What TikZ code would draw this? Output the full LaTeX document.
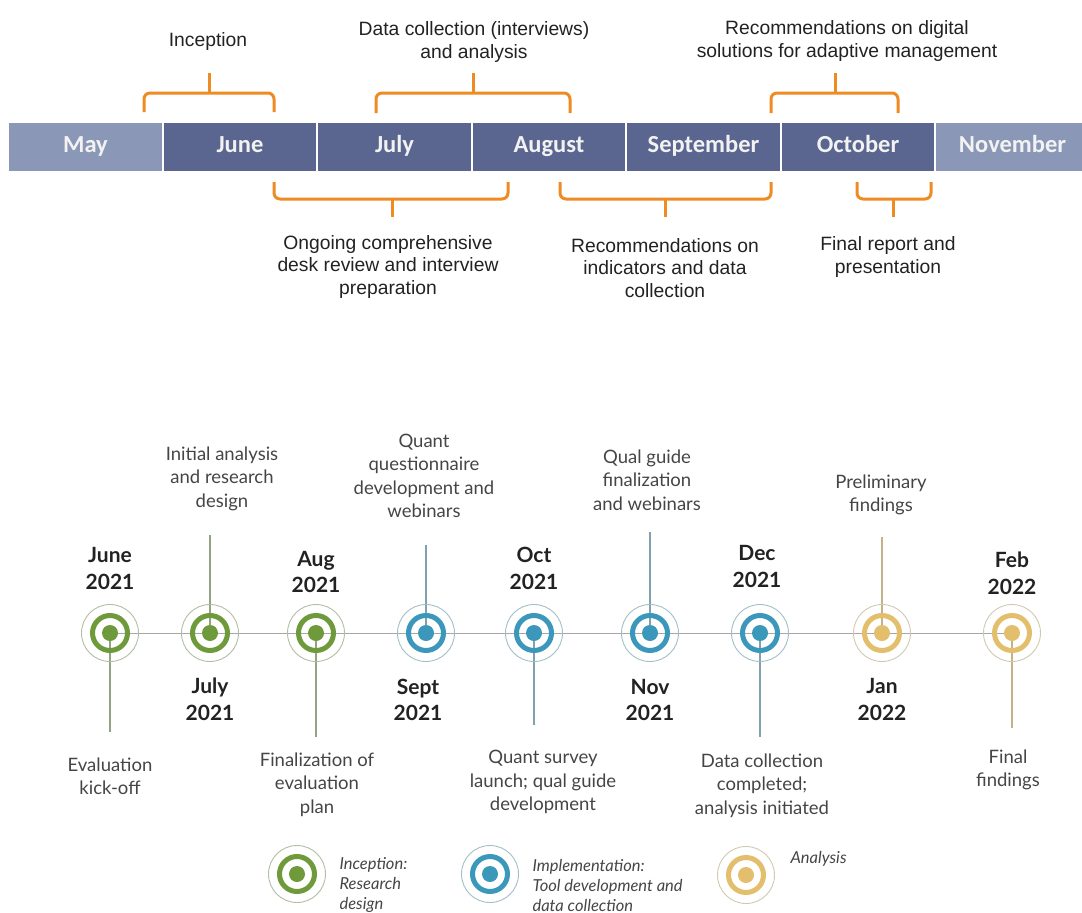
\documentclass[tikz,border=0pt]{standalone}
\usepackage{fontspec}
\setmainfont{Liberation Sans}
\newfontfamily\gillfont{Lato}
\newfontfamily\calibfont{Carlito}
\usetikzlibrary{positioning}

\definecolor{barDark}{HTML}{5A6690}
\definecolor{barLight}{HTML}{8A97B6}
\definecolor{braceOrange}{HTML}{EE8B22}
\definecolor{incGreen}{HTML}{6E9A3B}
\definecolor{impBlue}{HTML}{3B98BA}
\definecolor{anaTan}{HTML}{E3BE6C}
\definecolor{lineGray}{HTML}{A4A8A6}
\definecolor{textDark}{HTML}{222222}
\definecolor{textGray}{HTML}{454545}

\tikzset{
    month/.style={fill=barDark, minimum width=152.5pt, minimum height=48pt, inner sep=0pt, outer sep=0pt,
        text height=14pt, text depth=3pt,
        text=white!95!black, font=\calibfont\bfseries\fontsize{24.5}{27}\selectfont},
    lightmonth/.style={month, fill=barLight},
    brace/.style={draw=braceOrange, line width=3pt, rounded corners=6pt},
    toplabel/.style={align=center, text=textDark, font=\fontsize{19.3}{22.8}\selectfont},
    datelabel/.style={align=center, text=textDark, font=\gillfont\bfseries\fontsize{21}{26.5}\selectfont},
    desclabel/.style={align=center, text=textGray, font=\gillfont\fontsize{18.5}{23.5}\selectfont},
    legendlabel/.style={anchor=west, align=left, text=textGray, font=\gillfont\itshape\fontsize{16.5}{20}\selectfont},
    stem/.style={line width=1.1pt}
}

% ring marker: name, position, colour
\newcommand{\milestone}[3]{%
    \draw[#3!40!lineGray!70, line width=0.9pt] (#2) circle (28.5pt);
    \draw[#3, line width=5pt] (#2) circle (17.5pt);
    \node[circle, fill=#3, minimum size=16pt, inner sep=0pt] (#1) at (#2) {};
}

\begin{document}
\begin{tikzpicture}[x=1pt, y=-1pt]
    \useasboundingbox (0,0) rectangle (1082,913);

    % month bar
    \node[lightmonth] (may) at (85.5,147) {May};
    \node[month, right=2pt of may] (june) {June};
    \node[month, right=2pt of june] (july) {July};
    \node[month, right=2pt of july] (august) {August};
    \node[month, right=2pt of august] (september) {September};
    \node[month, right=2pt of september] (october) {October};
    \node[lightmonth, right=2pt of october] (november) {November};

    % braces above the bar
    \node[toplabel] (inception) at (208,42) {Inception};
    \draw[brace] (144,112) -- (144,93) -- (274,93) -- (274,112);
    \draw[brace, rounded corners=0pt] (209,93) -- (209,73);

    \node[toplabel] (datacoll) at (474,42) {Data collection (interviews)\\and analysis};
    \draw[brace] (376,113) -- (376,93) -- (570,93) -- (570,113);
    \draw[brace, rounded corners=0pt] (473,93) -- (473,73);

    \node[toplabel] (recdigital) at (847,41) {Recommendations on digital\\solutions for adaptive management};
    \draw[brace] (771,113) -- (771,93) -- (898,93) -- (898,113);
    \draw[brace, rounded corners=0pt] (835,93) -- (835,73);

    % braces below the bar
    \draw[brace] (274,182) -- (274,199) -- (508,199) -- (508,182);
    \draw[brace, rounded corners=0pt] (392,199) -- (392,217);
    \node[toplabel] (deskreview) at (388,267) {Ongoing comprehensive\\desk review and interview\\preparation};

    \draw[brace] (560,182) -- (560,199) -- (771,199) -- (771,182);
    \draw[brace, rounded corners=0pt] (665,199) -- (665,217);
    \node[toplabel] (recindic) at (665,268) {Recommendations on\\indicators and data\\collection};

    \draw[brace] (857,182) -- (857,199) -- (931,199) -- (931,182);
    \draw[brace, rounded corners=0pt] (893,199) -- (893,217);
    \node[toplabel] (finalreport) at (888,257) {Final report and\\presentation};

    % timeline
    \draw[lineGray, line width=1pt] (110,633) -- (1012,633);

    \draw[stem, incGreen!35!lineGray] (110,633) -- (110,732);
    \draw[stem, incGreen!35!lineGray] (210,633) -- (210,535);
    \draw[stem, incGreen!35!lineGray] (316,633) -- (316,737);
    \draw[stem, impBlue!35!lineGray] (426,633) -- (426,545);
    \draw[stem, impBlue!35!lineGray] (534,633) -- (534,725);
    \draw[stem, impBlue!35!lineGray] (650,633) -- (650,532);
    \draw[stem, impBlue!35!lineGray] (760,633) -- (760,737);
    \draw[stem, anaTan!50!lineGray] (882,633) -- (882,537);
    \draw[stem, anaTan!50!lineGray] (1012,633) -- (1012,728);

    \milestone{jun21}{110,633}{incGreen}
    \milestone{jul21}{210,633}{incGreen}
    \milestone{aug21}{316,633}{incGreen}
    \milestone{sep21}{426,633}{impBlue}
    \milestone{oct21}{534,633}{impBlue}
    \milestone{nov21}{650,633}{impBlue}
    \milestone{dec21}{760,633}{impBlue}
    \milestone{jan22}{882,633}{anaTan}
    \milestone{feb22}{1012,633}{anaTan}

    % dates
    \node[datelabel] at (110,568.5) {June\\2021};
    \node[datelabel] at (210,699.5) {July\\2021};
    \node[datelabel] at (316,572) {Aug\\2021};
    \node[datelabel] at (418,700) {Sept\\2021};
    \node[datelabel] at (534,568.5) {Oct\\2021};
    \node[datelabel] at (650,700) {Nov\\2021};
    \node[datelabel] at (757,566.5) {Dec\\2021};
    \node[datelabel] at (882,699.5) {Jan\\2022};
    \node[datelabel] at (1012,573.5) {Feb\\2022};

    % events
    \node[desclabel] (kickoff) at (110,776) {Evaluation\\kick-off};
    \node[desclabel] (initial) at (222,478.5) {Initial analysis\\and research\\design};
    \node[desclabel] (evalplan) at (317,784.5) {Finalization of\\evaluation\\plan};
    \node[desclabel] (quantq) at (424,476) {Quant\\questionnaire\\development and\\webinars};
    \node[desclabel] (quantsurvey) at (543,782) {Quant survey\\launch; qual guide\\development};
    \node[desclabel] (qualguide) at (647,480) {Qual guide\\finalization\\and webinars};
    \node[desclabel] (datadone) at (762,785.5) {Data collection\\completed;\\analysis initiated};
    \node[desclabel] (prelim) at (881,495) {Preliminary\\findings};
    \node[desclabel] (finalfind) at (1008,770) {Final\\findings};

    % legend
    \milestone{leginc}{297,874}{incGreen}
    \node[legendlabel] at (336,885) {Inception:\\Research\\design};
    \milestone{legimp}{490,874}{impBlue}
    \node[legendlabel] at (529,885) {Implementation:\\Tool development and\\data collection};
    \milestone{legana}{746,875}{anaTan}
    \node[legendlabel] at (787,859) {Analysis};
\end{tikzpicture}
\end{document}
